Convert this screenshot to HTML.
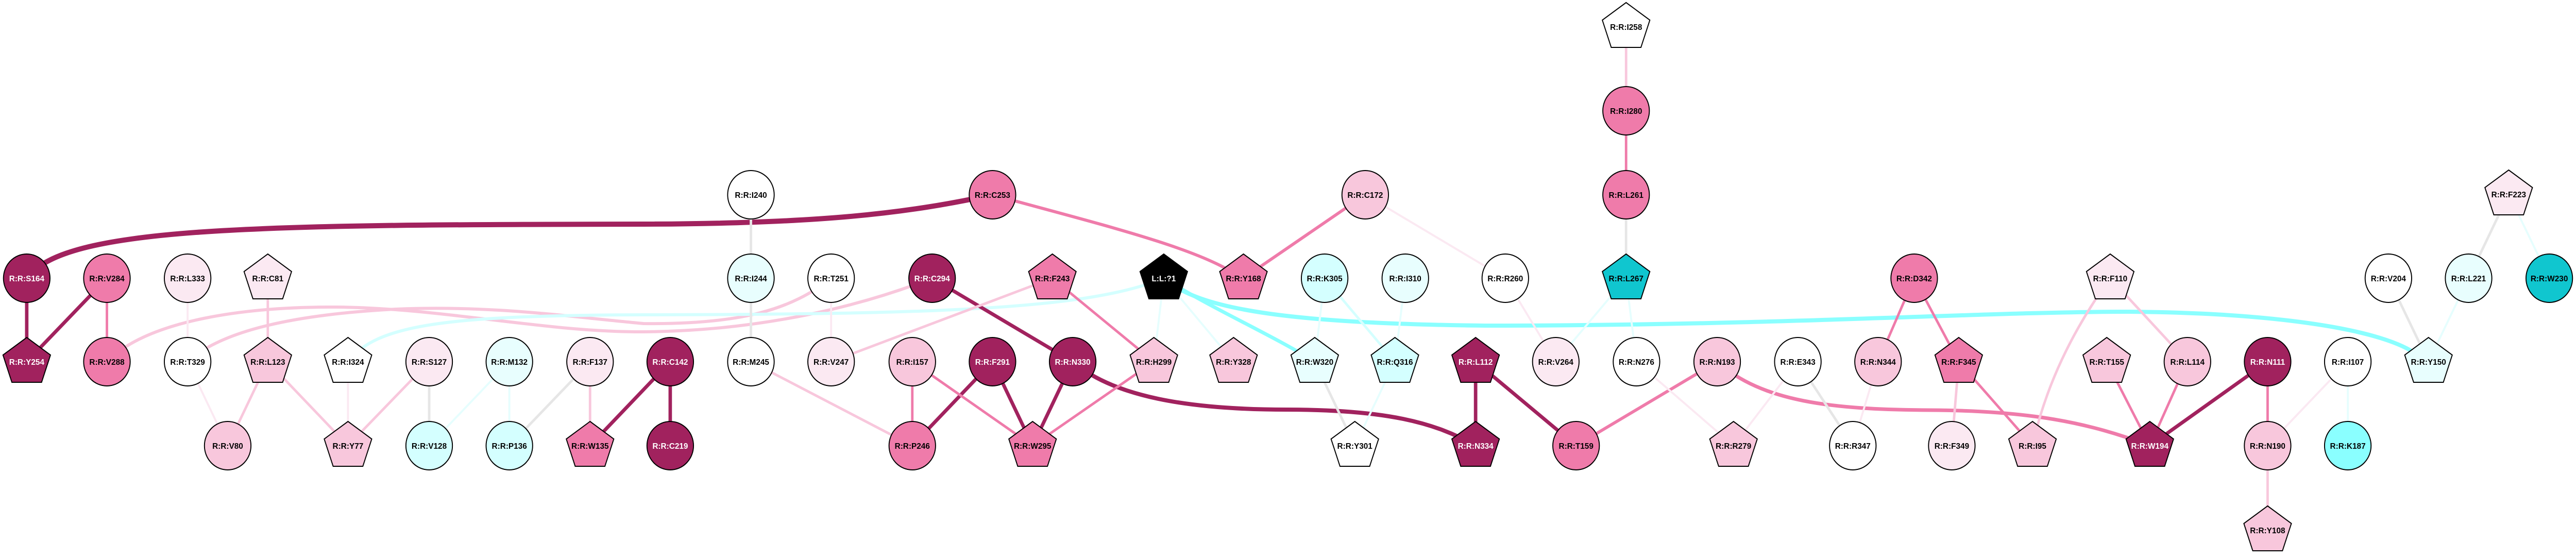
<!DOCTYPE html>
<html><head><meta charset="utf-8"><style>
html,body{margin:0;padding:0;background:#fff;overflow:hidden;width:100%;height:100%;}
svg{display:block;width:100vw;height:100vh;}
text{font-family:"Liberation Sans",Arial,sans-serif;font-weight:bold;font-size:16px;text-anchor:middle;}
.e{fill:none;stroke-linecap:butt;}
</style></head><body>
<svg viewBox="0 0 5204 1083" preserveAspectRatio="none" xmlns="http://www.w3.org/2000/svg">
<defs>
<polygon id="pg" points="0,-47 48,-13 30,40 -30,40 -48,-13" stroke="#000" stroke-width="2"/>
</defs>
<g class="e">
<path d="M54,540 C130,440 500,436 1300,435 C1650,434 1830,415 2005,378" stroke="#A1225E" stroke-width="10"/>
<path d="M2005,378 C2200,430 2420,480 2500,535" stroke="#EF7BAA" stroke-width="6"/>
<path d="M216,702 C300,620 500,595 680,596 C900,598 1100,645 1300,644 C1550,642 1750,590 1883,540" stroke="#F8C7DC" stroke-width="6"/>
<path d="M379,702 C450,640 600,610 800,600 C1000,592 1150,615 1300,628 C1500,630 1600,600 1679,540" stroke="#F8C7DC" stroke-width="6"/>
<path d="M703,702 C760,630 900,612 1300,611 C1900,610 2200,600 2351,540" stroke="#D4FFFF" stroke-width="6"/>
<path d="M2351,540 C2420,600 2600,628 3000,632 C3600,632 4000,605 4300,605 C4600,607 4820,640 4885,690" stroke="#8AFFFF" stroke-width="8"/>
<path d="M2351,540 C2450,600 2570,650 2656,702" stroke="#8AFFFF" stroke-width="7"/>
<path d="M2167,702 C2250,770 2400,795 2600,795 C2800,795 2900,820 2981,865" stroke="#A1225E" stroke-width="8"/>
<path d="M3469,702 C3560,780 3700,795 3900,796 C4100,797 4220,820 4343,865" stroke="#EF7BAA" stroke-width="7"/>
<path d="M4263,540 C4180,650 4130,760 4106,865" stroke="#F8C7DC" stroke-width="5"/>
<g stroke="#A1225E" stroke-width="7">
<line x1="54" y1="540" x2="54" y2="702"/><line x1="216" y1="540" x2="54" y2="702"/>
<line x1="1354" y1="702" x2="1192" y2="865"/><line x1="1354" y1="702" x2="1354" y2="865"/>
<line x1="1883" y1="540" x2="2167" y2="702"/><line x1="2005" y1="702" x2="1843" y2="865"/>
<line x1="2005" y1="702" x2="2086" y2="865"/><line x1="2167" y1="702" x2="2086" y2="865"/>
<line x1="2981" y1="702" x2="2981" y2="865"/><line x1="2981" y1="702" x2="3184" y2="865"/>
<line x1="4581" y1="702" x2="4343" y2="865"/>
</g>
<g stroke="#EF7BAA" stroke-width="5">
<line x1="216" y1="540" x2="216" y2="702"/><line x1="2126" y1="540" x2="2331" y2="702"/>
<line x1="1843" y1="702" x2="1843" y2="865"/><line x1="1843" y1="702" x2="2086" y2="865"/>
<line x1="2331" y1="702" x2="2086" y2="865"/><line x1="2758" y1="378" x2="2512" y2="540" stroke-width="6"/>
<line x1="3285" y1="215" x2="3285" y2="378"/><line x1="3469" y1="702" x2="3184" y2="865" stroke-width="6"/>
<line x1="3867" y1="540" x2="3794" y2="702"/><line x1="3867" y1="540" x2="3957" y2="702"/>
<line x1="3957" y1="702" x2="4106" y2="865"/><line x1="4256" y1="702" x2="4343" y2="865"/>
<line x1="4419" y1="702" x2="4343" y2="865"/><line x1="4581" y1="702" x2="4581" y2="865"/>
</g>
<g stroke="#F8C7DC" stroke-width="5">
<line x1="541" y1="540" x2="541" y2="702"/><line x1="541" y1="702" x2="460" y2="865"/>
<line x1="541" y1="702" x2="703" y2="865"/><line x1="867" y1="702" x2="703" y2="865"/>
<line x1="1192" y1="702" x2="1192" y2="865"/><line x1="2126" y1="540" x2="1679" y2="702"/>
<line x1="1517" y1="702" x2="1843" y2="865"/><line x1="3285" y1="52" x2="3285" y2="215"/>
<line x1="3957" y1="702" x2="3943" y2="865"/><line x1="4263" y1="540" x2="4419" y2="702"/>
<line x1="4581" y1="865" x2="4581" y2="1029"/>
</g>
<g stroke="#FBE9F2" stroke-width="4">
<line x1="379" y1="540" x2="379" y2="702"/><line x1="379" y1="702" x2="460" y2="865"/>
<line x1="703" y1="702" x2="703" y2="865"/><line x1="1679" y1="540" x2="1679" y2="702"/>
<line x1="2758" y1="378" x2="3041" y2="540"/><line x1="3041" y1="540" x2="3143" y2="702"/>
<line x1="3306" y1="702" x2="3502" y2="865"/><line x1="3632" y1="702" x2="3502" y2="865"/>
<line x1="3794" y1="702" x2="3743" y2="865"/><line x1="4743" y1="702" x2="4581" y2="865"/>
</g>
<g stroke="#E6E6E6" stroke-width="5">
<line x1="867" y1="702" x2="867" y2="865"/><line x1="1192" y1="702" x2="1029" y2="865"/>
<line x1="1517" y1="378" x2="1517" y2="702"/><line x1="3285" y1="378" x2="3285" y2="540"/>
<line x1="2656" y1="702" x2="2737" y2="865"/><line x1="3632" y1="702" x2="3743" y2="865"/>
<line x1="4825" y1="540" x2="4906" y2="702"/><line x1="5068" y1="377" x2="4987" y2="540"/>
</g>
<g stroke="#E6FEFE" stroke-width="4">
<line x1="1029" y1="702" x2="867" y2="865"/><line x1="1029" y1="702" x2="1029" y2="865"/>
<line x1="2351" y1="540" x2="2331" y2="702"/><line x1="2351" y1="540" x2="2492" y2="702"/>
<line x1="3285" y1="540" x2="3143" y2="702"/><line x1="3285" y1="540" x2="3306" y2="702"/>
<line x1="2676" y1="540" x2="2656" y2="702"/><line x1="2839" y1="540" x2="2818" y2="702"/>
<line x1="2818" y1="702" x2="2737" y2="865"/><line x1="4743" y1="702" x2="4743" y2="865"/>
<line x1="4987" y1="540" x2="4906" y2="702"/><line x1="5068" y1="377" x2="5150" y2="540"/>
</g>
<line x1="2676" y1="540" x2="2818" y2="702" stroke="#D4FFFF" stroke-width="5"/>
</g>
<g stroke="#000" stroke-width="2">
<circle cx="54" cy="540" r="47" fill="#A1225E"/>
<circle cx="216" cy="540" r="47" fill="#EF7BAA"/>
<circle cx="379" cy="540" r="47" fill="#FBE9F2"/>
<use href="#pg" x="541" y="540" fill="#FBE9F2"/>
<use href="#pg" x="54" y="702" fill="#A1225E"/>
<circle cx="216" cy="702" r="47" fill="#EF7BAA"/>
<circle cx="379" cy="702" r="47" fill="#fff"/>
<use href="#pg" x="541" y="702" fill="#F8C7DC"/>
<use href="#pg" x="703" y="702" fill="#fff"/>
<circle cx="867" cy="702" r="47" fill="#FBE9F2"/>
<circle cx="1029" cy="702" r="47" fill="#E8FEFE"/>
<circle cx="1192" cy="702" r="47" fill="#FBE9F2"/>
<circle cx="1354" cy="702" r="47" fill="#A1225E"/>
<circle cx="460" cy="865" r="47" fill="#F8C7DC"/>
<use href="#pg" x="703" y="865" fill="#F8C7DC"/>
<circle cx="867" cy="865" r="47" fill="#D4FFFF"/>
<circle cx="1029" cy="865" r="47" fill="#D4FFFF"/>
<use href="#pg" x="1192" y="865" fill="#EF7BAA"/>
<circle cx="1354" cy="865" r="47" fill="#A1225E"/>
<circle cx="1517" cy="378" r="47" fill="#fff"/>
<circle cx="2005" cy="378" r="47" fill="#EF7BAA"/>
<circle cx="1517" cy="540" r="47" fill="#E8FEFE"/>
<circle cx="1679" cy="540" r="47" fill="#fff"/>
<circle cx="1883" cy="540" r="47" fill="#A1225E"/>
<use href="#pg" x="2126" y="540" fill="#EF7BAA"/>
<use href="#pg" x="2351" y="540" fill="#000"/>
<use href="#pg" x="2512" y="540" fill="#EF7BAA"/>
<circle cx="1517" cy="702" r="47" fill="#fff"/>
<circle cx="1679" cy="702" r="47" fill="#FBE9F2"/>
<circle cx="1843" cy="702" r="47" fill="#F8C7DC"/>
<circle cx="2005" cy="702" r="47" fill="#A1225E"/>
<circle cx="2167" cy="702" r="47" fill="#A1225E"/>
<use href="#pg" x="2331" y="702" fill="#F8C7DC"/>
<use href="#pg" x="2492" y="702" fill="#F8C7DC"/>
<circle cx="1843" cy="865" r="47" fill="#EF7BAA"/>
<use href="#pg" x="2086" y="865" fill="#EF7BAA"/>
<use href="#pg" x="3285" y="52" fill="#fff"/>
<circle cx="3285" cy="215" r="47" fill="#EF7BAA"/>
<circle cx="3285" cy="378" r="47" fill="#EF7BAA"/>
<circle cx="2758" cy="378" r="47" fill="#F8C7DC"/>
<circle cx="2676" cy="540" r="47" fill="#D4FFFF"/>
<circle cx="2839" cy="540" r="47" fill="#E8FEFE"/>
<circle cx="3041" cy="540" r="47" fill="#fff"/>
<use href="#pg" x="3285" y="540" fill="#10C6CF"/>
<circle cx="3867" cy="540" r="47" fill="#EF7BAA"/>
<use href="#pg" x="2656" y="702" fill="#E8FEFE"/>
<use href="#pg" x="2818" y="702" fill="#D4FFFF"/>
<use href="#pg" x="2981" y="702" fill="#A1225E"/>
<circle cx="3143" cy="702" r="47" fill="#FBE9F2"/>
<circle cx="3306" cy="702" r="47" fill="#fff"/>
<circle cx="3469" cy="702" r="47" fill="#F8C7DC"/>
<circle cx="3632" cy="702" r="47" fill="#fff"/>
<circle cx="3794" cy="702" r="47" fill="#F8C7DC"/>
<use href="#pg" x="2737" y="865" fill="#fff"/>
<use href="#pg" x="2981" y="865" fill="#A1225E"/>
<circle cx="3184" cy="865" r="47" fill="#EF7BAA"/>
<use href="#pg" x="3502" y="865" fill="#F8C7DC"/>
<circle cx="3743" cy="865" r="47" fill="#fff"/>
<use href="#pg" x="4263" y="540" fill="#FBE9F2"/>
<use href="#pg" x="3957" y="702" fill="#EF7BAA"/>
<use href="#pg" x="4256" y="702" fill="#F8C7DC"/>
<circle cx="4419" cy="702" r="47" fill="#F8C7DC"/>
<circle cx="4581" cy="702" r="47" fill="#A1225E"/>
<circle cx="4743" cy="702" r="47" fill="#fff"/>
<use href="#pg" x="4906" y="702" fill="#E8FEFE"/>
<circle cx="3943" cy="865" r="47" fill="#FBE9F2"/>
<use href="#pg" x="4106" y="865" fill="#F8C7DC"/>
<use href="#pg" x="4343" y="865" fill="#A1225E"/>
<circle cx="4581" cy="865" r="47" fill="#F8C7DC"/>
<circle cx="4743" cy="865" r="47" fill="#8AFFFF"/>
<use href="#pg" x="4581" y="1029" fill="#F8C7DC"/>
<use href="#pg" x="5068" y="377" fill="#FBE9F2"/>
<circle cx="4825" cy="540" r="47" fill="#fff"/>
<circle cx="4987" cy="540" r="47" fill="#E8FEFE"/>
<circle cx="5150" cy="540" r="47" fill="#10C6CF"/>
</g>
<g fill="#fff">
<text x="54" y="546">R:R:S164</text><text x="54" y="708">R:R:Y254</text>
<text x="1354" y="708">R:R:C142</text><text x="1354" y="871">R:R:C219</text>
<text x="1883" y="546">R:R:C294</text><text x="2351" y="546">L:L:?1</text>
<text x="2005" y="708">R:R:F291</text><text x="2167" y="708">R:R:N330</text>
<text x="2981" y="708">R:R:L112</text><text x="2981" y="871">R:R:N334</text>
<text x="4581" y="708">R:R:N111</text><text x="4343" y="871">R:R:W194</text>
</g>
<g fill="#000">
<text x="216" y="546">R:R:V284</text><text x="379" y="546">R:R:L333</text><text x="541" y="546">R:R:C81</text>
<text x="216" y="708">R:R:V288</text><text x="379" y="708">R:R:T329</text><text x="541" y="708">R:R:L123</text>
<text x="703" y="708">R:R:I324</text><text x="867" y="708">R:R:S127</text><text x="1029" y="708">R:R:M132</text>
<text x="1192" y="708">R:R:F137</text><text x="460" y="871">R:R:V80</text><text x="703" y="871">R:R:Y77</text>
<text x="867" y="871">R:R:V128</text><text x="1029" y="871">R:R:P136</text><text x="1192" y="871">R:R:W135</text>
<text x="1517" y="384">R:R:I240</text><text x="2005" y="384">R:R:C253</text>
<text x="1517" y="546">R:R:I244</text><text x="1679" y="546">R:R:T251</text><text x="2126" y="546">R:R:F243</text>
<text x="2512" y="546">R:R:Y168</text><text x="1517" y="708">R:R:M245</text><text x="1679" y="708">R:R:V247</text>
<text x="1843" y="708">R:R:I157</text><text x="2331" y="708">R:R:H299</text><text x="2492" y="708">R:R:Y328</text>
<text x="1843" y="871">R:R:P246</text><text x="2086" y="871">R:R:W295</text>
<text x="3285" y="58">R:R:I258</text><text x="3285" y="221">R:R:I280</text><text x="3285" y="384">R:R:L261</text>
<text x="2758" y="384">R:R:C172</text><text x="2676" y="546">R:R:K305</text><text x="2839" y="546">R:R:I310</text>
<text x="3041" y="546">R:R:R260</text><text x="3285" y="546">R:R:L267</text><text x="3867" y="546">R:R:D342</text>
<text x="2656" y="708">R:R:W320</text><text x="2818" y="708">R:R:Q316</text><text x="3143" y="708">R:R:V264</text>
<text x="3306" y="708">R:R:N276</text><text x="3469" y="708">R:R:N193</text><text x="3632" y="708">R:R:E343</text>
<text x="3794" y="708">R:R:N344</text><text x="2737" y="871">R:R:Y301</text><text x="3184" y="871">R:R:T159</text>
<text x="3502" y="871">R:R:R279</text><text x="3743" y="871">R:R:R347</text>
<text x="4263" y="546">R:R:F110</text><text x="3957" y="708">R:R:F345</text><text x="4256" y="708">R:R:T155</text>
<text x="4419" y="708">R:R:L114</text><text x="4743" y="708">R:R:I107</text><text x="4906" y="708">R:R:Y150</text>
<text x="3943" y="871">R:R:F349</text><text x="4106" y="871">R:R:I95</text><text x="4581" y="871">R:R:N190</text>
<text x="4743" y="871">R:R:K187</text><text x="4581" y="1035">R:R:Y108</text><text x="5068" y="383">R:R:F223</text>
<text x="4825" y="546">R:R:V204</text><text x="4987" y="546">R:R:L221</text><text x="5150" y="546">R:R:W230</text>
</g>
</svg>
</body></html>
